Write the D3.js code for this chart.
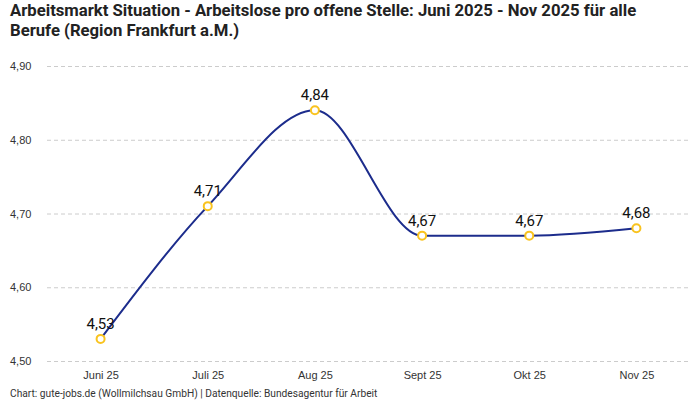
<!DOCTYPE html>
<html><head><meta charset="utf-8">
<script src="https://cdn.jsdelivr.net/npm/d3@7"></script>
<style>body{margin:0;background:#fff;}svg{display:block;font-family:Roboto,"Noto Sans",sans-serif;}</style>
</head><body><svg id="c" width="700" height="400"></svg>
<script>
const categories = ["Juni 25","Juli 25","Aug 25","Sept 25","Okt 25","Nov 25"];
const values = [4.53, 4.71, 4.84, 4.67, 4.67, 4.68];
const yTicks = [4.5, 4.6, 4.7, 4.8, 4.9];
const titleLines = ["Arbeitsmarkt Situation - Arbeitslose pro offene Stelle: Juni 2025 - Nov 2025 für alle","Berufe (Region Frankfurt a.M.)"];
const footer = "Chart: gute-jobs.de (Wollmilchsau GmbH) | Datenquelle: Bundesagentur für Arbeit";

const svg = d3.select("#c");
const mLeft = 47, mRight = 690, mTop = 66, mBottom = 361;
const x = d3.scalePoint().domain(categories).range([mLeft, mRight]).padding(0.5);
const y = d3.scaleLinear().domain([4.5, 4.9]).range([mBottom, mTop]);
const fmt = v => d3.format(".2f")(v).replace(".", ",");

svg.append("g").selectAll("text").data(titleLines).join("text")
  .attr("x", 10).attr("y", (d,i) => 16 + i*20)
  .attr("font-size", 16.7).attr("font-weight", "bold").attr("fill", "#222").text(d => d);

const yAxis = svg.append("g").attr("transform", `translate(${mLeft},0)`)
  .call(d3.axisLeft(y).tickValues(yTicks).tickSize(-(mRight-mLeft)).tickFormat(fmt).tickPadding(14));
yAxis.select(".domain").remove();
yAxis.selectAll(".tick line").attr("stroke", "#ccc").attr("stroke-dasharray", "4,3");
yAxis.selectAll(".tick text").attr("font-size", 11).attr("fill", "#333").attr("text-anchor", "start").attr("x", -37);

const xAxis = svg.append("g").attr("transform", `translate(0,${mBottom})`)
  .call(d3.axisBottom(x).tickSize(0).tickPadding(10));
xAxis.select(".domain").remove();
xAxis.selectAll(".tick text").attr("font-size", 11).attr("fill", "#333");

const line = d3.line().x((d,i) => x(categories[i])).y(d => y(d)).curve(d3.curveMonotoneX);
svg.append("path").datum(values).attr("d", line).attr("fill", "none")
  .attr("stroke", "#1c2c8c").attr("stroke-width", 2);

svg.append("g").selectAll("circle").data(values).join("circle")
  .attr("cx", (d,i) => x(categories[i])).attr("cy", d => y(d)).attr("r", 4)
  .attr("fill", "#fff").attr("stroke", "#f9c31f").attr("stroke-width", 2);

svg.append("g").selectAll("text").data(values).join("text")
  .attr("x", (d,i) => x(categories[i])).attr("y", d => y(d) - 10)
  .attr("text-anchor", "middle").attr("font-size", 15).attr("fill", "#111").text(fmt);

svg.append("text").attr("x", 10).attr("y", 397).attr("font-size", 10.2).attr("fill", "#333").text(footer);
</script></body></html>
